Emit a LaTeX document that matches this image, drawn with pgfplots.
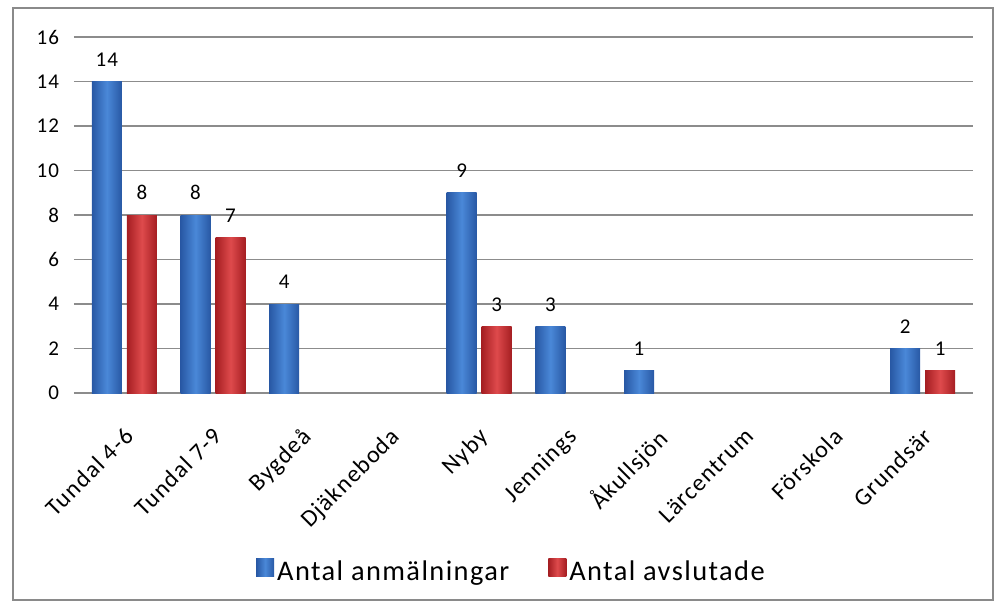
\documentclass[border=0pt]{standalone}
\usepackage{fontspec}
\setmainfont{Carlito}
\newfontfamily\spaced[LetterSpace=5]{Carlito}
\usepackage{pgfplots}
\pgfplotsset{compat=1.18}
\definecolor{gridc}{HTML}{8C8C8C}
\definecolor{frame}{HTML}{8A8A8A}
\definecolor{bdark}{HTML}{2858A4}
\definecolor{bmid}{HTML}{4A88D8}
\definecolor{rdark}{HTML}{A51E22}
\definecolor{rmid}{HTML}{DE4A4C}
\pgfplotsset{
  blueb/.style={draw=none, left color=bdark, right color=bdark, middle color=bmid, bar shift=-8.75pt},
  redb/.style={draw=none, left color=rdark, right color=rdark, middle color=rmid, bar shift=8.75pt},
}
\begin{document}
\begin{tikzpicture}
\path[use as bounding box] (-40pt,-107pt) rectangle (459pt,196.5pt);
\draw[frame, line width=0.6pt] (-33.5pt,-103.5pt) rectangle (456.5pt,192.5pt);
\begin{axis}[
  at={(0,0)}, anchor=south west,
  scale only axis, width=443.5pt, height=178pt,
  ymin=0, ymax=16, ytick={0,2,...,16},
  xmin=-0.5, xmax=9.5,
  xtick={0,...,9},
  xticklabels={Tundal 4-6,Tundal 7-9,Bygdeå,Djäkneboda,Nyby,Jennings,Åkullsjön,Lärcentrum,Förskola,Grundsär},
  x tick label style={rotate=45, anchor=north east, inner sep=0pt, yshift=-9pt, xshift=-10pt, font=\spaced\fontsize{12}{13}\selectfont},
  yticklabel style={font=\spaced\fontsize{10.5}{12}\selectfont, xshift=-4pt},
  /pgf/number format/assume math mode=true,
  axis line style={draw=none},
  ymajorgrids, grid style={gridc, line width=0.6pt},
  tick align=outside, major tick length=3pt,
  ytick style={gridc, line width=0.6pt},
  xtick style={draw=none},
  ybar, bar width=15pt,
  nodes near coords,
  every node near coord/.append style={font=\spaced\fontsize{10.5}{12}\selectfont, yshift=4pt},
  legend style={at={(0.487,-0.503)}, anchor=center, draw=none, legend columns=2,
    font=\spaced\fontsize{14.2}{16}\selectfont, nodes={inner sep=1.5pt},
    /tikz/every even column/.append style={column sep=18pt}},
  legend image code/.code={\path[#1] (0pt,-2pt) rectangle (9pt,7pt);},
  legend cell align=left,
]
\addlegendimage{blueb}
\addlegendentry{Antal anmälningar}
\addlegendimage{redb}
\addlegendentry{Antal avslutade}
% Antal anmälningar
\addplot[blueb, forget plot] coordinates {(0,14)};
\addplot[blueb, forget plot] coordinates {(1,8)};
\addplot[blueb, forget plot] coordinates {(2,4)};
\addplot[blueb, forget plot] coordinates {(4,9)};
\addplot[blueb, forget plot] coordinates {(5,3)};
\addplot[blueb, forget plot] coordinates {(6,1)};
\addplot[blueb, forget plot] coordinates {(9,2)};
% Antal avslutade
\addplot[redb, forget plot] coordinates {(0,8)};
\addplot[redb, forget plot] coordinates {(1,7)};
\addplot[redb, forget plot] coordinates {(4,3)};
\addplot[redb, forget plot] coordinates {(9,1)};
\end{axis}
\end{tikzpicture}
\end{document}
